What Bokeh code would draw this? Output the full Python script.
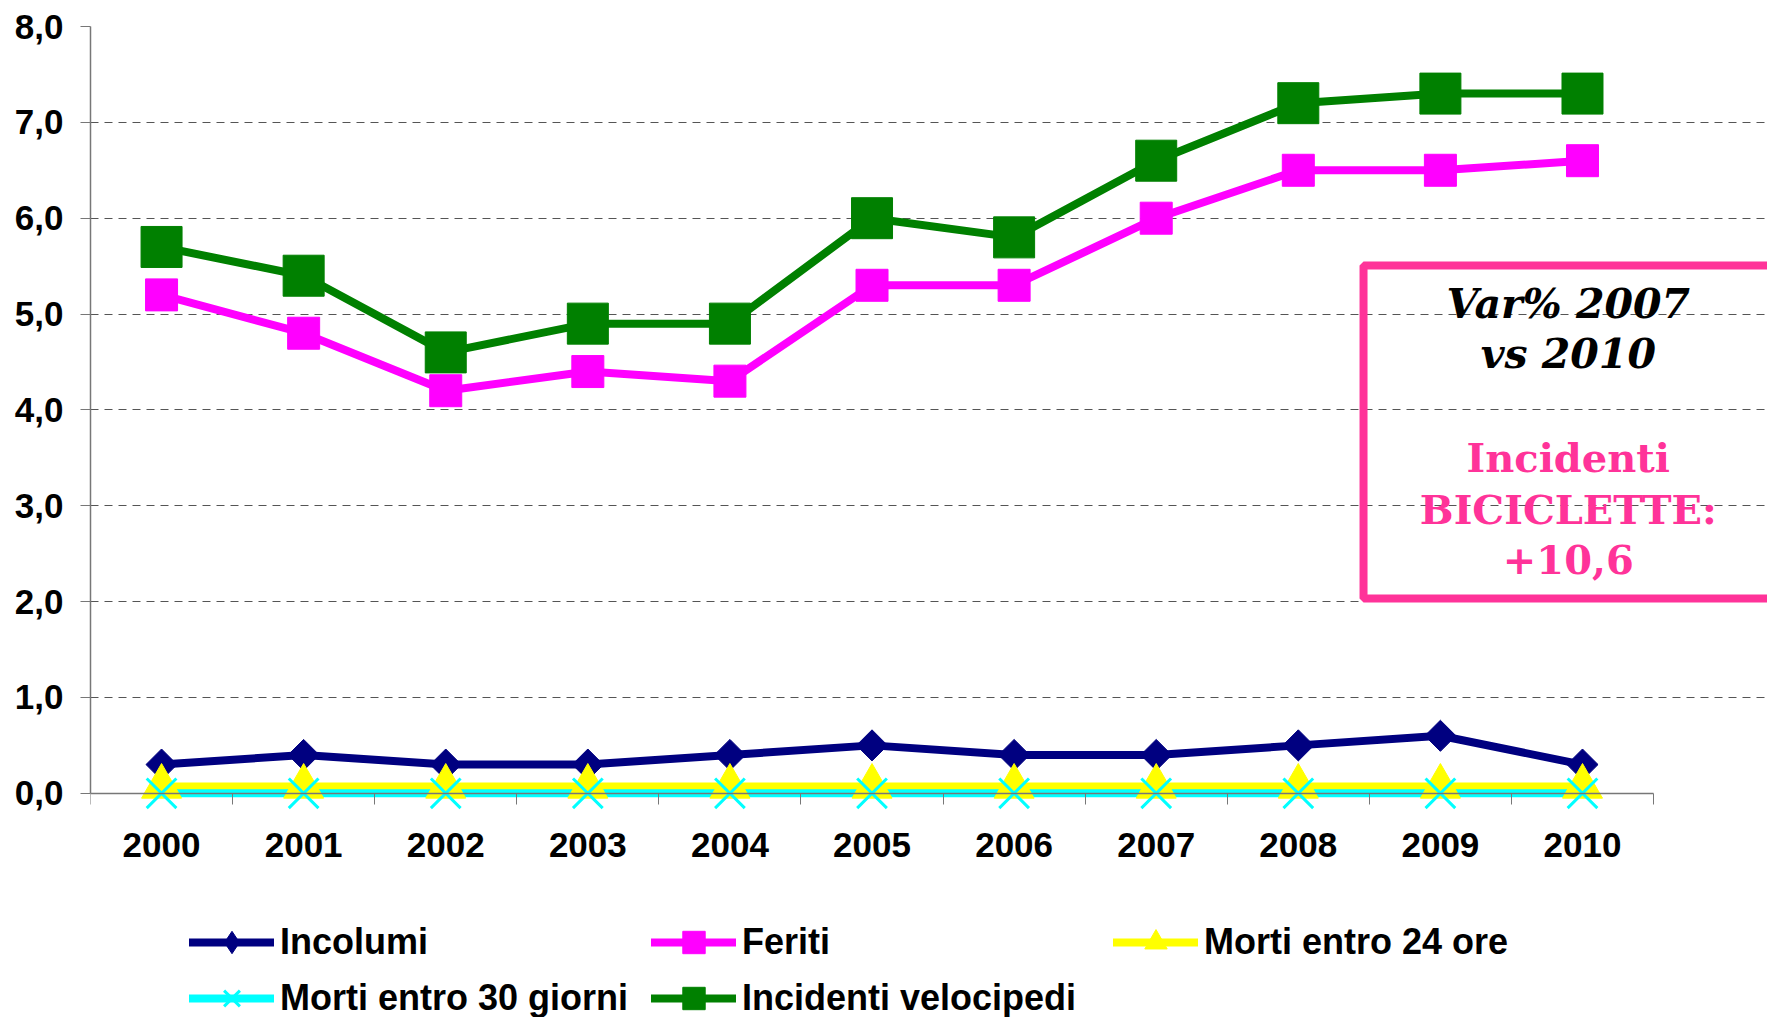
import math
from bokeh.plotting import figure
from bokeh.models import (FixedTicker, Range1d, Legend, LegendItem,
                          BoxAnnotation, Label)
from bokeh.embed import file_html
from bokeh.resources import INLINE

years = ["2000", "2001", "2002", "2003", "2004", "2005",
         "2006", "2007", "2008", "2009", "2010"]
incolumi = [0.3, 0.4, 0.3, 0.3, 0.4, 0.5, 0.4, 0.4, 0.5, 0.6, 0.3]
feriti = [5.2, 4.8, 4.2, 4.4, 4.3, 5.3, 5.3, 6.0, 6.5, 6.5, 6.6]
morti_24 = [0.07, 0.07, 0.07, 0.07, 0.07, 0.07, 0.07, 0.07, 0.07, 0.07, 0.07]
morti_30 = [0.0, 0.0, 0.0, 0.0, 0.0, 0.0, 0.0, 0.0, 0.0, 0.0, 0.0]
incidenti = [5.7, 5.4, 4.6, 4.9, 4.9, 6.0, 5.8, 6.6, 7.2, 7.3, 7.3]
y_ticks = [0, 1, 2, 3, 4, 5, 6, 7, 8]
y_tick_labels = ["0,0", "1,0", "2,0", "3,0", "4,0", "5,0", "6,0", "7,0", "8,0"]
series_names = ["Incolumi", "Feriti", "Morti entro 24 ore",
                "Morti entro 30 giorni", "Incidenti velocipedi"]

xs = list(range(len(years)))
x_lo, x_hi = -0.5, len(years) - 0.5

p = figure(width=1767, height=1017,
           x_range=Range1d(x_lo, 11.302),
           y_range=Range1d(-2.339, 8),
           min_border_left=90, min_border_right=0,
           min_border_top=26, min_border_bottom=0,
           toolbar_location=None, output_backend="svg",
           outline_line_color=None, background_fill_color="white",
           border_fill_color="white")

# X axis, pinned at y = 0 inside the frame
ax = p.xaxis[0]
ax.fixed_location = 0
ax.bounds = (x_lo, x_hi)
ax.ticker = FixedTicker(ticks=xs, minor_ticks=[i - 0.5 for i in range(len(years) + 1)])
ax.major_label_overrides = {i: y for i, y in enumerate(years)}
ax.major_tick_out = 0
ax.major_tick_in = 0
ax.minor_tick_out = 11
ax.minor_tick_in = 0
ax.minor_tick_line_color = "#777777"
ax.axis_line_color = "#777777"
ax.axis_line_width = 1.5
ax.major_label_text_font = "Liberation Sans"
ax.major_label_text_font_style = "bold"
ax.major_label_text_font_size = "35px"
ax.major_label_text_color = "black"
ax.major_label_standoff = 29

ay = p.yaxis[0]
ay.ticker = FixedTicker(ticks=y_ticks, minor_ticks=[])
ay.major_label_overrides = {t: l for t, l in zip(y_ticks, y_tick_labels)}
ay.bounds = (0, 8)
ay.major_tick_out = 10
ay.major_tick_in = 0
ay.major_tick_line_color = "#777777"
ay.axis_line_color = "#777777"
ay.axis_line_width = 1.5
ay.major_label_text_font = "Liberation Sans"
ay.major_label_text_font_style = "bold"
ay.major_label_text_font_size = "35px"
ay.major_label_text_color = "black"
ay.major_label_standoff = 17

p.xgrid.visible = False
p.ygrid.ticker = FixedTicker(ticks=y_ticks[1:])
p.ygrid.bounds = (x_lo, x_hi)
p.ygrid.grid_line_color = "#555555"
p.ygrid.grid_line_dash = "8 6"
p.ygrid.grid_line_width = 1

# Series: (values, colour, marker, size, angle, marker line width)
specs = [
    (incolumi, "#000080", "square", 22, math.pi / 4, 1),
    (feriti, "#FF00FF", "square", 32, 0, 1),
    (morti_24, "#FFFF00", "triangle", 40, 0, 1),
    (morti_30, "#00FFFF", "x", 42, 0, 3),
    (incidenti, "#008000", "square", 41, 0, 1),
]

# all lines first, then markers (as the original chart stacks them)
line_rs = []
for vals, col, mk, sz, ang, lw in specs:
    line_rs.append(p.line(xs, vals, line_color=col, line_width=8,
                          line_join="round", line_cap="round"))

items = []
for name, lr, (vals, col, mk, sz, ang, lw) in zip(series_names, line_rs, specs):
    legend_rs = [lr]
    if mk == "x":
        sr = p.scatter(xs, vals, marker=mk, size=sz, line_color=col,
                       line_width=lw)
        legend_rs.append(sr)
    elif ang:
        # narrow diamond hidden under the rotated square; used as legend swatch
        dr = p.scatter(xs, vals, marker="diamond", size=28,
                       fill_color=col, line_color=col, line_width=1)
        p.scatter(xs, vals, marker=mk, size=sz, angle=ang,
                  fill_color=col, line_color=col, line_width=lw)
        legend_rs.append(dr)
    else:
        sr = p.scatter(xs, vals, marker=mk, size=sz,
                       fill_color=col, line_color=col, line_width=lw)
        legend_rs.append(sr)
    items.append(LegendItem(label=name, renderers=legend_rs))

legend = Legend(items=items, location=(99, -9), orientation="horizontal",
                ncols=3, glyph_width=85, glyph_height=56, label_height=56,
                label_width=371, label_standoff=6, spacing=0, padding=0,
                margin=0, border_line_alpha=0, background_fill_alpha=0,
                label_text_font="Liberation Sans", label_text_font_style="bold",
                label_text_font_size="36px", label_text_color="black")
p.add_layout(legend, "center")

# Annotation box
box = BoxAnnotation(left=8.459, right=13, top=5.506, bottom=2.033,
                    fill_alpha=0, line_color="#FF3399", line_width=8,
                    line_alpha=1)
p.add_layout(box)

title_lines = [("Var% 2007", 5.10), ("vs 2010", 4.58)]
for t, yy in title_lines:
    p.add_layout(Label(x=9.90, y=yy, text=t, text_align="center",
                       text_baseline="alphabetic", text_font="DejaVu Serif",
                       text_font_style="bold italic", text_font_size="41px",
                       text_color="black"))
pink_lines = [("Incidenti", 3.50), ("BICICLETTE:", 2.96), ("+10,6", 2.44)]
for t, yy in pink_lines:
    p.add_layout(Label(x=9.90, y=yy, text=t, text_align="center",
                       text_baseline="alphabetic", text_font="DejaVu Serif",
                       text_font_style="bold", text_font_size="40px",
                       text_color="#FF3399"))

open("out.html", "w").write(file_html(p, INLINE))
